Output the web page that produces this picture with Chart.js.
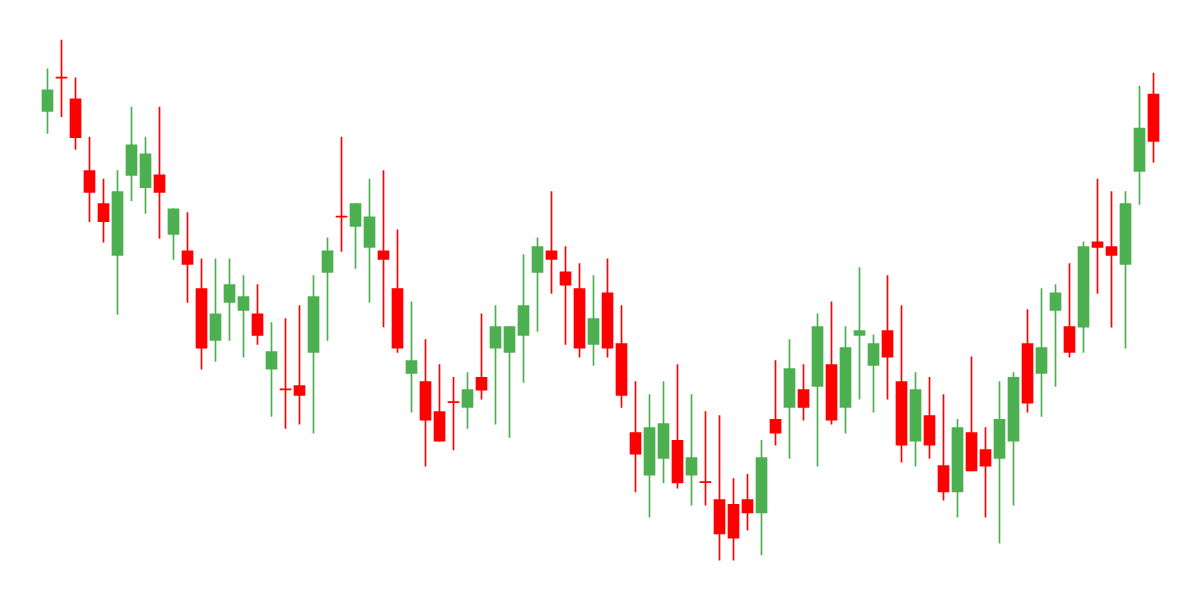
<!DOCTYPE html>
<html>
<head>
<meta charset="utf-8">
<script src="https://cdn.jsdelivr.net/npm/chart.js@4.4.1/dist/chart.umd.min.js"></script>
<style>
html,body{margin:0;padding:0;background:#ffffff;}
#wrap{width:1200px;height:600px;}
</style>
</head>
<body>
<div id="wrap"><canvas id="c" width="1200" height="600"></canvas></div>
<script>
const openV  = [488.5,521.8,501.2,429.3,396.3,344.7,424.5,412.4,425.2,365.7,349.2,311.3,259.7,297.6,289.6,286.2,230.8,210.2,214.3,247.7,327.5,382.9,373.6,352.6,349.2,311.3,226.7,218.4,188.5,197.4,192.6,222.6,251.8,247.7,264.5,327.5,349.2,328.2,311.3,255.6,307.2,256.3,167.5,124.9,141.7,159.6,124.9,117.3,100.4,95.6,100.4,87.0,180.6,192.6,210.5,213.6,235.3,192.6,264.5,234.6,269.3,218.4,158.9,184.4,134.5,108.0,167.5,150.3,141.7,158.9,256.3,226.7,289.6,273.5,272.8,358.1,353.3,335.7,428.6,506.0];
const highV  = [531.1,560.0,522.2,463.0,421.0,429.3,492.9,463.0,492.9,391.1,387.3,341.2,341.2,341.2,324.4,315.4,277.3,281.4,294.5,324.4,362.2,463.0,396.3,421.0,429.3,370.1,298.2,260.4,235.3,222.6,227.4,286.2,294.5,273.5,345.4,362.2,408.3,353.3,336.4,324.4,341.2,294.5,218.4,205.4,218.4,235.3,205.4,188.5,184.4,121.4,125.6,159.6,239.4,260.4,235.3,286.2,298.2,273.5,332.3,265.2,324.4,294.5,227.4,222.6,205.4,180.6,243.2,172.3,218.4,227.4,290.3,311.3,315.4,336.4,358.1,421.0,408.3,408.3,513.9,527.0];
const lowV   = [466.5,483.3,450.6,378.4,357.8,285.5,399.4,386.6,361.5,340.6,297.6,230.8,238.7,259.7,242.9,255.6,183.7,171.6,175.8,166.8,259.7,348.5,331.6,297.6,273.1,247.7,187.8,133.8,158.9,150.0,171.6,200.9,175.8,162.7,217.7,268.7,306.5,255.6,242.9,234.6,242.9,192.6,108.0,82.9,117.0,111.8,94.9,94.9,39.9,39.9,69.8,45.0,154.8,141.7,179.9,133.8,175.8,166.8,200.9,187.8,200.9,137.9,133.8,141.7,99.8,82.9,129.0,82.9,56.8,94.9,187.8,183.7,213.6,242.9,247.7,306.5,272.8,251.8,395.6,437.6];
const closeV = [510.1,521.8,462.3,407.6,378.4,408.3,455.1,446.2,407.6,391.1,335.7,251.8,286.2,315.4,303.4,264.5,248.4,210.2,204.7,303.4,349.2,382.9,396.3,383.2,340.6,251.8,239.4,179.9,158.9,197.4,210.5,209.8,273.5,273.5,294.5,353.3,340.6,314.8,251.8,281.4,251.8,204.7,145.8,172.3,176.5,117.0,142.4,117.3,66.0,61.9,87.0,142.4,166.8,231.5,192.6,273.5,179.9,252.5,269.3,256.3,242.9,154.8,210.5,154.8,108.0,172.3,129.0,133.8,180.6,222.6,196.8,252.5,307.2,247.7,353.3,352.6,344.7,396.3,472.0,458.5];
const categories = openV.map((_, i) => 'Day ' + (i + 1));

const UP = '#4CAF50', DOWN = '#FF0000';
const colors = openV.map((o, i) => closeV[i] > o ? UP : DOWN);

new Chart(document.getElementById('c'), {
  type: 'bar',
  data: {
    labels: categories,
    datasets: [
      {
        label: 'wick',
        data: openV.map((_, i) => [lowV[i], highV[i]]),
        backgroundColor: colors,
        borderWidth: 0,
        barThickness: 1,
        grouped: false,
        order: 2
      },
      {
        label: 'body',
        data: openV.map((o, i) => [o, closeV[i]]),
        backgroundColor: colors,
        borderWidth: 0,
        barThickness: 11,
        minBarLength: 1,
        grouped: false,
        order: 1
      }
    ]
  },
  options: {
    responsive: false,
    animation: false,
    devicePixelRatio: 1,
    layout: { padding: { left: 40.5, right: 39.5, top: 0, bottom: 0 } },
    plugins: { legend: { display: false }, tooltip: { enabled: false } },
    scales: {
      x: { display: false, offset: true, grid: { display: false } },
      y: { display: false, min: 0, max: 600, grid: { display: false } }
    }
  }
});
</script>
</body>
</html>
